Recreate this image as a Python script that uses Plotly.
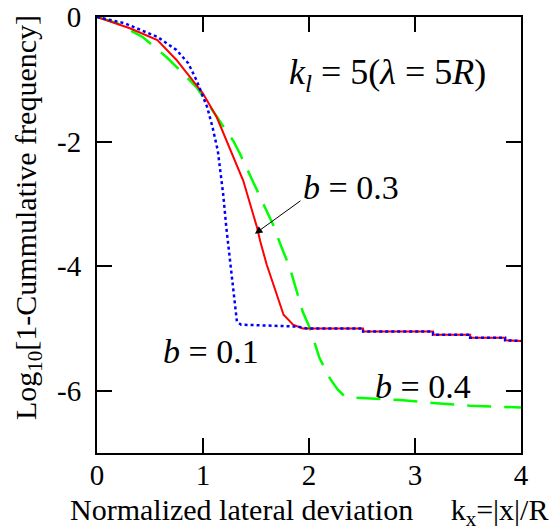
import plotly.graph_objects as go

# b = 0.1 (blue dotted)
x_b01 = [0, 0.26, 0.57, 0.75, 0.86, 0.94, 1.04, 1.09, 1.14, 1.19, 1.22, 1.24, 1.27, 1.29, 1.32, 1.36,
         1.89, 1.98, 2.26, 2.51, 2.51, 3.17, 3.17, 3.52, 3.52, 3.85, 3.85, 4.0]
y_b01 = [0, -0.1, -0.32, -0.53, -0.74, -1.02, -1.45, -1.77, -2.15, -2.84, -3.38, -3.7, -4.08, -4.5, -4.89, -4.94,
         -4.97, -5.0, -5.0, -5.0, -5.05, -5.05, -5.1, -5.1, -5.15, -5.15, -5.19, -5.2]
# b = 0.3 (red solid)
x_b03 = [0, 0.31, 0.57, 0.75, 0.88, 1.0, 1.13, 1.25, 1.38, 1.51, 1.54, 1.6, 1.7, 1.76, 1.85, 1.94,
         2.26, 2.51, 2.51, 3.17, 3.17, 3.52, 3.52, 3.85, 3.85, 4.0]
y_b03 = [0, -0.18, -0.37, -0.69, -0.97, -1.23, -1.61, -2.1, -2.63, -3.38, -3.6, -3.97, -4.5, -4.78, -4.94, -5.0,
         -5.0, -5.0, -5.05, -5.05, -5.1, -5.1, -5.15, -5.15, -5.19, -5.2]
# b = 0.4 (green dashed)
x_b04 = [0, 0.19, 0.43, 0.66, 0.81, 0.94, 1.09, 1.22, 1.29, 1.35, 1.44, 1.51, 1.6, 1.66, 1.73, 1.82, 1.94,
         2.01, 2.1, 2.2, 2.27, 2.33, 2.4, 2.6, 2.86, 3.2, 3.52, 4.0]
y_b04 = [0, -0.1, -0.32, -0.65, -0.9, -1.13, -1.5, -1.82, -2.0, -2.2, -2.52, -2.79, -3.11, -3.33, -3.65, -4.03, -4.73,
         -5.0, -5.48, -5.81, -5.98, -6.08, -6.11, -6.13, -6.15, -6.2, -6.24, -6.27]

x_ticks = [0, 1, 2, 3, 4]
y_ticks = [0, -2, -4, -6]

FONT = "Liberation Serif, serif"

fig = go.Figure()
fig.add_trace(go.Scatter(x=x_b04, y=y_b04, mode="lines",
                         line=dict(color="#00ff00", width=2.5, dash="24px,13px")))
fig.add_trace(go.Scatter(x=x_b03, y=y_b03, mode="lines",
                         line=dict(color="#ff0000", width=2)))
fig.add_trace(go.Scatter(x=x_b01, y=y_b01, mode="lines",
                         line=dict(color="#0000ff", width=2.5, dash="dot")))

axis_common = dict(showgrid=False, zeroline=False, showline=True, linecolor="black", linewidth=2,
                   mirror="ticks", ticks="inside", ticklen=15, tickwidth=2, tickcolor="black",
                   automargin=False,
                   tickfont=dict(family=FONT, size=29, color="black"))

fig.update_xaxes(range=[0, 4], tickvals=x_ticks, ticktext=[str(v) for v in x_ticks],
                 ticklabelstandoff=-5, **axis_common)
fig.update_yaxes(range=[-7, 0], tickvals=y_ticks, ticktext=[str(v) for v in y_ticks],
                 ticklabelstandoff=8, **axis_common)

fig.update_layout(
    width=550, height=532,
    margin=dict(l=97, r=29, t=17, b=79),
    paper_bgcolor="white", plot_bgcolor="white",
    showlegend=False,
)

ann_font = dict(family=FONT, size=34, color="black")
fig.add_annotation(x=2.74, y=-0.92, xref="x", yref="y", showarrow=False,
                   text="<i>k</i><sub><i>l</i></sub> = 5(<i>λ</i> = 5<i>R</i>)",
                   font=dict(family=FONT, size=36, color="black"))
fig.add_annotation(x=2.40, y=-2.73, xref="x", yref="y", showarrow=False,
                   text="<i>b</i> = 0.3", font=ann_font)
fig.add_annotation(x=1.08, y=-5.37, xref="x", yref="y", showarrow=False,
                   text="<i>b</i> = 0.1", font=ann_font)
fig.add_annotation(x=3.08, y=-5.94, xref="x", yref="y", showarrow=False,
                   text="<i>b</i> = 0.4", font=ann_font)
fig.add_annotation(x=1.49, y=-3.48, xref="x", yref="y", ax=47, ay=-34, text="",
                   showarrow=True, arrowhead=2, arrowsize=1.5, arrowwidth=1, arrowcolor="black")
# axis titles
fig.add_annotation(x=0.5, y=0, xref="paper", yref="paper", yanchor="middle", xanchor="center", showarrow=False,
                   yshift=-59,
                   text="Normalized lateral deviation" + "&nbsp;" * 5 + "k<sub>x</sub>=|x|/R",
                   font=dict(family=FONT, size=30, color="black"))
fig.add_annotation(x=0, y=0.5, xref="paper", yref="paper", yanchor="middle", xanchor="center", showarrow=False,
                   xshift=-69, yshift=17, textangle=-90,
                   text="Log<sub>10</sub>[1-Cummulative frequency]",
                   font=dict(family=FONT, size=30, color="black"))

fig.write_html("out.html", config={"displayModeBar": False},
               post_script="document.body.style.margin='0';")
